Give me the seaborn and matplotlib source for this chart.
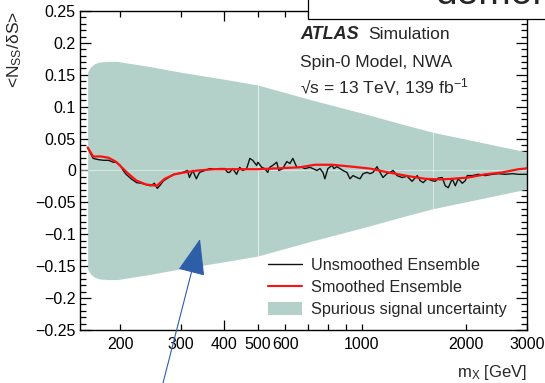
import numpy as np
import matplotlib
matplotlib.use("Agg")
import matplotlib.pyplot as plt
from matplotlib.lines import Line2D
from matplotlib.patches import Patch, Rectangle
from matplotlib.ticker import FixedLocator, FuncFormatter, MultipleLocator
import seaborn as sns

# Unsmoothed ensemble: spurious signal over signal uncertainty vs mass
black_mass = [161, 164, 167, 173, 179, 185, 191, 195, 200, 204, 208, 215, 223, 230,
              237, 245, 251, 256, 260, 267, 276, 285, 293, 303, 313, 317, 324, 332,
              339, 351, 363, 375, 388, 401, 409, 414, 423, 434, 443, 452, 464, 474,
              483, 496, 500, 513, 523, 534, 541, 552, 567, 575, 590, 606, 619, 631,
              648, 661, 670, 684, 707, 721, 741, 756, 771, 781, 797, 819, 830, 846,
              864, 881, 905, 923, 942, 967, 987, 1007, 1034, 1055, 1076, 1105, 1128,
              1150, 1181, 1205, 1230, 1263, 1306, 1350, 1396, 1444, 1473, 1503, 1543,
              1596, 1628, 1661, 1706, 1741, 1776, 1824, 1861, 1898, 1950, 1989, 2016,
              2084, 2169, 2273, 2382, 2479, 2598, 2722, 2833, 2969, 3000]
black_vals = [0.036, 0.027, 0.019, 0.017, 0.016, 0.016, 0.013, 0.013, 0.008, 0.000,
              -0.006, -0.013, -0.019, -0.020, -0.022, -0.024, -0.020, -0.028, -0.024,
              -0.016, -0.011, -0.006, -0.005, -0.003, 0.000, -0.011, 0.000, -0.013,
              -0.003, 0.000, 0.003, 0.002, 0.003, 0.003, -0.003, -0.003, 0.003, -0.006,
              0.005, 0.000, 0.003, 0.019, 0.016, 0.008, 0.013, 0.005, 0.003, -0.003,
              0.005, 0.008, 0.013, 0.000, 0.003, 0.014, 0.011, 0.019, 0.005, 0.005,
              0.005, 0.003, 0.005, 0.003, 0.000, 0.003, -0.003, -0.013, 0.003, 0.008,
              0.003, 0.006, 0.003, 0.000, -0.003, -0.013, -0.008, -0.011, -0.013,
              -0.005, -0.003, -0.005, -0.003, 0.006, -0.003, -0.011, -0.005, -0.003,
              0.000, -0.008, -0.011, -0.009, -0.017, -0.008, -0.016, -0.019, -0.013,
              -0.016, -0.017, -0.012, -0.011, -0.024, -0.027, -0.013, -0.024, -0.013,
              -0.020, -0.016, -0.008, -0.008, -0.006, -0.008, -0.006, -0.005, -0.006,
              -0.005, -0.006, -0.006, -0.006]

# Smoothed ensemble
red_mass = [161, 167, 176, 185, 194, 202, 211, 223, 238, 255, 269, 287, 307, 335,
            375, 409, 500, 661, 731, 819, 936, 1055, 1166, 1333, 1523, 1683, 1824,
            2029, 2273, 2546, 2833, 2969, 3000]
red_vals = [0.036, 0.022, 0.022, 0.020, 0.014, 0.005, -0.005, -0.016, -0.022, -0.024,
            -0.013, -0.006, -0.003, 0.000, 0.002, 0.002, 0.002, 0.005, 0.009, 0.009,
            0.006, 0.003, -0.002, -0.008, -0.013, -0.014, -0.013, -0.011, -0.006,
            -0.003, 0.002, 0.003, 0.004]

# Spurious signal uncertainty (symmetric half-width), three mass windows
band_mass = [161, 164, 168, 174, 185, 196, 243, 300, 400, 500, 700, 1000, 1300, 1600,
             2000, 2500, 3000]
band_half = [0.154, 0.162, 0.167, 0.170, 0.171, 0.171, 0.163, 0.154, 0.143, 0.134,
             0.112, 0.090, 0.073, 0.060, 0.049, 0.038, 0.029]
window_edges = [161, 500, 1600, 3000]

x_tick_values = [200, 300, 400, 500, 600, 1000, 2000, 3000]
x_minor_values = [700, 800, 900]

sns.set_theme(style="ticks")
plt.rcParams["font.family"] = ["Liberation Sans", "DejaVu Sans"]
plt.rcParams["mathtext.fontset"] = "custom"
plt.rcParams["mathtext.rm"] = "Liberation Sans"
plt.rcParams["mathtext.it"] = "Liberation Sans:italic"
plt.rcParams["mathtext.bf"] = "Liberation Sans:bold"

BAND = "#b3d1c9"

fig = plt.figure(figsize=(5.45, 3.83), dpi=100)
ax = fig.add_axes([80 / 545, 53 / 383, 447 / 545, 319 / 383])

bm = np.array(band_mass, dtype=float)
bh = np.array(band_half)
for lo, hi in zip(window_edges[:-1], window_edges[1:]):
    sel = (bm >= lo) & (bm <= hi)
    ax.fill_between(bm[sel], -bh[sel], bh[sel], color=BAND, lw=0, zorder=1)

# faint seams between windows and along zero
seam = [i for i, m in enumerate(band_mass) if m in window_edges[1:-1]]
ax.vlines(bm[seam], -bh[seam], bh[seam], color="white", lw=0.7, alpha=0.5, zorder=2)
ax.axhline(0, color="white", lw=0.7, alpha=0.5, zorder=2)

sns.lineplot(x=black_mass, y=black_vals, ax=ax, color="#111111", lw=1.0,
             estimator=None, sort=False, zorder=3)
sns.lineplot(x=red_mass, y=red_vals, ax=ax, color="#ff1010", lw=1.6,
             estimator=None, sort=False, zorder=4)

ax.set_xscale("log")
ax.set_xlim(153, 3000)
ax.set_ylim(-0.25, 0.25)

ax.xaxis.set_major_locator(FixedLocator(x_tick_values))
ax.xaxis.set_minor_locator(FixedLocator(x_minor_values))
ax.xaxis.set_major_formatter(FuncFormatter(lambda v, p: f"{v:.0f}"))
ax.xaxis.set_minor_formatter(FuncFormatter(lambda v, p: ""))

ax.yaxis.set_major_locator(MultipleLocator(0.05))
ax.yaxis.set_minor_locator(MultipleLocator(0.01))
def yfmt(v, p):
    s = f"{abs(v):g}"
    if abs(v) < 1e-9:
        return "0"
    return ("\u2212" + s) if v < 0 else s
ax.yaxis.set_major_formatter(FuncFormatter(yfmt))

ax.tick_params(axis="both", which="both", direction="in", top=True, right=True,
               colors="black", labelsize=11.5, width=0.9)
ax.tick_params(axis="x", which="both", length=4, pad=5)
ax.tick_params(axis="y", which="major", length=8, pad=3)
ax.tick_params(axis="y", which="minor", length=4.5)
for t in ax.xaxis.get_major_ticks():
    if abs(t.get_loc() - 1000) < 1:
        t.tick1line.set_markersize(7)
        t.tick2line.set_markersize(7)

for sp in ax.spines.values():
    sp.set_color("black")
    sp.set_linewidth(1.0)

ax.set_ylabel("<N$_{\\mathregular{SS}}$/\u03b4S>", fontsize=12.5, loc="top")
ax.yaxis.set_label_coords(-0.125, 1.0)
ax.set_xlabel("m$_{\\mathregular{X}}$ [GeV]", fontsize=12, loc="right")
ax.xaxis.set_label_coords(1.0, -0.105)

ax.text(0.492, 0.925, "ATLAS", transform=ax.transAxes, fontsize=13,
        fontweight="bold", fontstyle="italic", va="center", ha="left")
ax.text(0.644, 0.925, "Simulation", transform=ax.transAxes, fontsize=12.6,
        va="center", ha="left")
ax.text(0.492, 0.837, "Spin-0 Model, NWA", transform=ax.transAxes, fontsize=12.6,
        va="center", ha="left")
ax.text(0.492, 0.762, "\u221as = 13 TeV, 139 fb$^{\\mathregular{-1}}$",
        transform=ax.transAxes, fontsize=12.6, va="center", ha="left")

handles = [Line2D([], [], color="#111111", lw=1.0),
           Line2D([], [], color="#ff1010", lw=1.5),
           Patch(facecolor=BAND, edgecolor="none")]
labels = ["Unsmoothed Ensemble", "Smoothed Ensemble", "Spurious signal uncertainty"]
ax.legend(handles, labels, loc="lower left", bbox_to_anchor=(0.42, 0.04),
          frameon=False, fontsize=11.7, handlelength=2.1, handletextpad=0.55,
          labelspacing=0.42, borderpad=0, borderaxespad=0, handleheight=0.9)

# pointer arrow
ax.annotate("", xy=(200, 144), xycoords="figure pixels",
            xytext=(163, 0), textcoords="figure pixels",
            arrowprops=dict(arrowstyle="-|>,head_length=0.42,head_width=0.16",
                            mutation_scale=55, color="#2e5ea8", lw=0.8,
                            shrinkA=0, shrinkB=0),
            annotation_clip=False, zorder=10)

# caption box at the top edge
fig.add_artist(Rectangle((308 / 545, 364 / 383), 0.5, 0.1, transform=fig.transFigure,
                         facecolor="white", edgecolor="black", lw=0.9, zorder=20))
fig.text(435 / 545, 379 / 383, "demonstrates", fontsize=28, va="baseline",
         ha="left", zorder=21)

fig.savefig("out.png", dpi=100)
